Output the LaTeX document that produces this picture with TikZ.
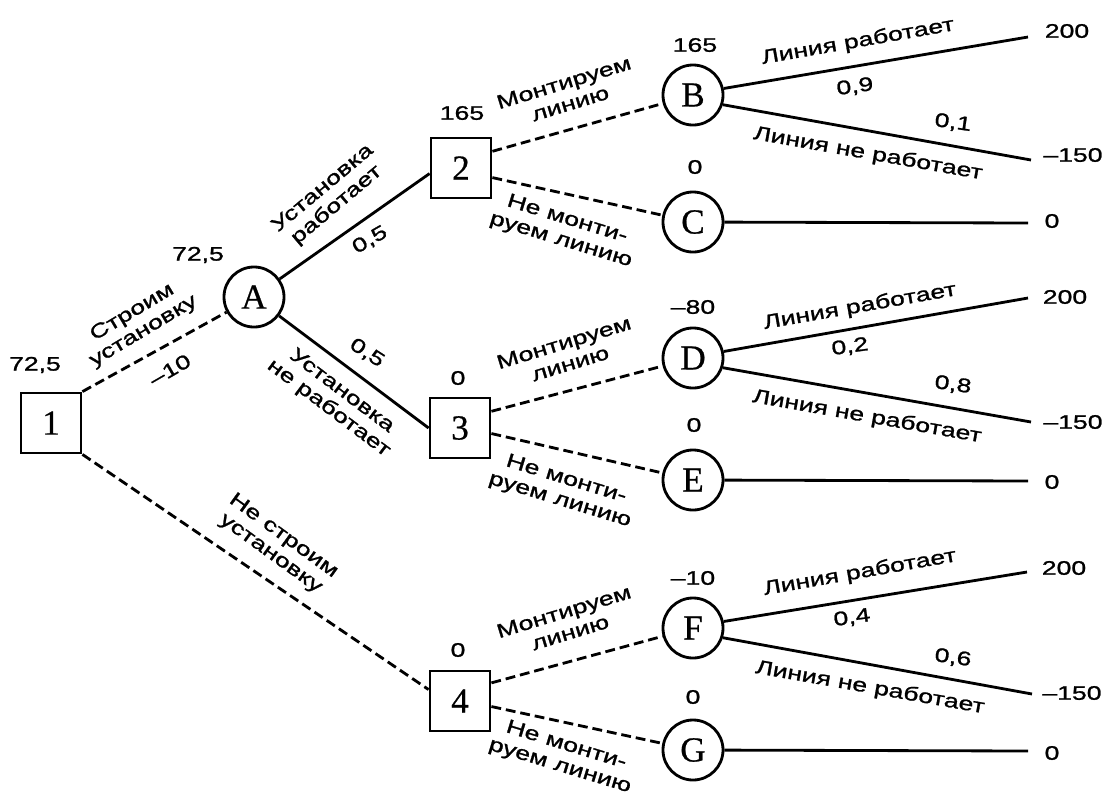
\documentclass[tikz,border=0pt]{standalone}
\usepackage{fontspec}
\setmainfont{Liberation Sans}[FakeStretch=1.36,FakeBold=1.2]
\newfontfamily\letterfont{Liberation Serif}[FakeBold=0.6]

\begin{document}
\begin{tikzpicture}[x=0.025cm,y=-0.025cm,line width=2pt,
    decbox/.style={draw,rectangle,minimum width=1.5cm,minimum height=1.5cm,inner sep=0pt,font=\letterfont\fontsize{25}{25}\selectfont},
    chance/.style={draw,circle,minimum size=1.5cm,inner sep=0pt,font=\letterfont\fontsize{25}{25}\selectfont},
    lbl/.style={align=center,inner sep=0pt,font=\fontsize{13.9}{15.5}\selectfont},
    alt/.style={dash pattern=on 7pt off 3.5pt}]
    \useasboundingbox (0,0) rectangle (1106,798);
            \node[decbox] (1) at (51,423) {1};
            \node[chance] (A) at (254,297) {A};
            \node[decbox] (2) at (461,168) {2};
            \node[decbox] (3) at (460,428) {3};
            \node[decbox] (4) at (460,701) {4};
            \node[chance] (B) at (693,95) {B};
            \node[chance] (C) at (693,222) {C};
            \node[chance] (D) at (693,358) {D};
            \node[chance] (E) at (693,480) {E};
            \node[chance] (F) at (693,628) {F};
            \node[chance] (G) at (693,750) {G};
            \coordinate (tB1) at (1028,37);
            \coordinate (tB2) at (1031,160);
            \coordinate (tC) at (1028,223);
            \coordinate (tD1) at (1028,298);
            \coordinate (tD2) at (1031,422);
            \coordinate (tE) at (1028,481);
            \coordinate (tF1) at (1027,572);
            \coordinate (tF2) at (1032,694);
            \coordinate (tG) at (1028,751);
            \draw[alt](1.north east)--(A);
            \draw[alt](1.south east)--(4.160);
            \draw(A)--(2.190);
            \draw(A)--(3.west);
            \draw[alt](2.28)--(B);
            \draw[alt](2.-17)--(C);
            \draw[alt](3.28)--(D);
            \draw[alt](3.-10)--(E);
            \draw[alt](4.30)--(F);
            \draw[alt](4.-10)--(G);
            \draw(B.12)--(tB1);
            \draw(B.-18)--(tB2);
            \draw(C)--(tC);
            \draw(D.12)--(tD1);
            \draw(D.-18)--(tD2);
            \draw(E)--(tE);
            \draw(F.12)--(tF1);
            \draw(F.-18)--(tF2);
            \draw(G)--(tG);
            \node[lbl] (v1) at (35,365) {72,5};
            \node[lbl] (vA) at (198,255) {72,5};
            \node[lbl] (v2) at (462,113) {165};
            \node[lbl] (v3) at (458,378) {0};
            \node[lbl] (v4) at (458,650) {0};
            \node[lbl] (vB) at (695,45) {165};
            \node[lbl] (vC) at (695,167) {0};
            \node[lbl] (vD) at (693,307) {–80};
            \node[lbl] (vE) at (694,425) {0};
            \node[lbl] (vF) at (693,578) {–10};
            \node[lbl] (vG) at (693,697) {0};
            \node[lbl,rotate=31] (e1A) at (138,322) {Строим\\установку};
            \node[lbl,rotate=30] (c1A) at (170,370) {–10};
            \node[lbl,rotate=-36] (e14) at (277,545) {Не строим\\установку};
            \node[lbl,rotate=40] (eA2) at (330,197) {Установка\\работает};
            \node[lbl,rotate=30] (pA2) at (370,240) {0,5};
            \node[lbl,rotate=-37] (eA3) at (335,400) {Установка\\не работает};
            \node[lbl,rotate=-33] (pA3) at (367,353) {0,5};
            \node[lbl,rotate=17] (m2B) at (567,93) {Монтируем\\линию};
            \node[lbl,rotate=-17] (n2C) at (564,230) {Не монти-\\руем линию};
            \node[lbl,rotate=17] (m3D) at (567,353) {Монтируем\\линию};
            \node[lbl,rotate=-17] (n3E) at (563,490) {Не монти-\\руем линию};
            \node[lbl,rotate=17] (m4F) at (567,622) {Монтируем\\линию};
            \node[lbl,rotate=-17] (n4G) at (563,756) {Не монти-\\руем линию};
            \node[lbl,rotate=10] (wB) at (858,42) {Линия работает};
            \node[lbl,rotate=8] (pB1) at (855,87) {0,9};
            \node[lbl,rotate=-8] (pB2) at (953,123) {0,1};
            \node[lbl,rotate=-10] (fB) at (868,154) {Линия не работает};
            \node[lbl,rotate=10] (wD) at (860,307) {Линия работает};
            \node[lbl,rotate=8] (pD1) at (850,347) {0,2};
            \node[lbl,rotate=-8] (pD2) at (953,385) {0,8};
            \node[lbl,rotate=-10] (fD) at (867,417) {Линия не работает};
            \node[lbl,rotate=10] (wF) at (860,573) {Линия работает};
            \node[lbl,rotate=8] (pF1) at (852,618) {0,4};
            \node[lbl,rotate=-8] (pF2) at (953,658) {0,6};
            \node[lbl,rotate=-10] (fF) at (870,688) {Линия не работает};
            \node[lbl] (tvB1) at (1067,31) {200};
            \node[lbl] (tvB2) at (1073,155) {–150};
            \node[lbl] (tvC) at (1052,221) {0};
            \node[lbl] (tvD1) at (1065,297) {200};
            \node[lbl] (tvD2) at (1073,422) {–150};
            \node[lbl] (tvE) at (1052,482) {0};
            \node[lbl] (tvF1) at (1064,568) {200};
            \node[lbl] (tvF2) at (1072,693) {–150};
            \node[lbl] (tvG) at (1052,753) {0};
             \end{tikzpicture}
\end{document}
